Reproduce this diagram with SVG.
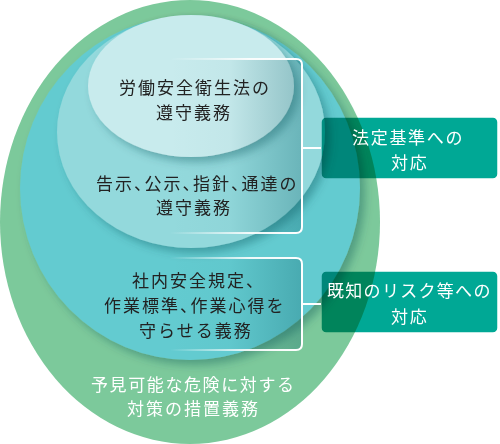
<svg xmlns="http://www.w3.org/2000/svg" width="500" height="444" viewBox="0 0 500 444">
<defs>
<filter id="sh" x="-20%" y="-20%" width="140%" height="140%">
<feDropShadow dx="5" dy="5" stdDeviation="4" flood-color="#0a4a50" flood-opacity="0.35"/>
</filter>
<linearGradient id="brk" x1="0" y1="0" x2="1" y2="0">
<stop offset="0" stop-color="#0b5f68" stop-opacity="0"/>
<stop offset="0.45" stop-color="#0b5f68" stop-opacity="0.03"/>
<stop offset="1" stop-color="#0b5f68" stop-opacity="0.3"/>
</linearGradient>
<linearGradient id="edge" x1="0" y1="0" x2="1" y2="0">
<stop offset="0" stop-color="#fff" stop-opacity="0"/>
<stop offset="0.6" stop-color="#fff" stop-opacity="0.9"/>
<stop offset="1" stop-color="#fff" stop-opacity="1"/>
</linearGradient>
</defs>
<style>
.t{font-family:"Noto Sans CJK JP","Noto Sans",sans-serif;font-size:17px;letter-spacing:2px;fill:#222}
.w{fill:#fff}
.h{font-feature-settings:"halt"}
.box{fill:#00a895;stroke:#fff;stroke-width:1.5;mix-blend-mode:multiply}
.con{stroke:#fff;stroke-width:2;fill:none}
</style>
<g id="outer">
<ellipse cx="190" cy="222" rx="190" ry="222" fill="#7cc99b"/>
<text class="t w" x="91" y="391" style="letter-spacing:1.6px">予見可能な危険に対する</text>
<text class="t w" x="127" y="414.5">対策の措置義務</text>
</g>
<g id="teal">
<ellipse cx="190" cy="188" rx="170" ry="172" fill="#63cbd0" filter="url(#sh)"/>
</g>
<g id="mid">
<ellipse cx="191" cy="132" rx="134" ry="116" fill="#93d9dc" filter="url(#sh)"/>
</g>
<g id="inner">
<ellipse cx="191" cy="86" rx="103" ry="71" fill="#c8ebed" filter="url(#sh)"/>
</g>
<g id="bracket1">
<rect x="170" y="59" width="132" height="174" rx="6" fill="url(#brk)"/>
<path d="M170 59 H296 Q302 59 302 65 V227 Q302 233 296 233 H170" fill="none" stroke="url(#edge)" stroke-width="2"/>
<text class="t" x="119" y="93.5">労働安全衛生法の</text>
<text class="t" x="156" y="118.5">遵守義務</text>
<text class="t" x="96" y="189.5">告示<tspan class="h">、</tspan>公示<tspan class="h">、</tspan>指針<tspan class="h">、</tspan>通達の</text>
<text class="t" x="156" y="213.5">遵守義務</text>
</g>
<g id="bracket2">
<rect x="170" y="258" width="132" height="92" rx="6" fill="url(#brk)"/>
<path d="M170 258 H296 Q302 258 302 264 V344 Q302 350 296 350 H170" fill="none" stroke="url(#edge)" stroke-width="2"/>
<text class="t" x="132" y="286.5">社内安全規定、</text>
<text class="t" x="104" y="311.5">作業標準<tspan class="h">、</tspan>作業心得を</text>
<text class="t" x="139" y="336.5">守らせる義務</text>
</g>
<g id="connectors">
<line class="con" x1="302" y1="148" x2="321" y2="148"/>
<line class="con" x1="302" y1="304" x2="321" y2="304"/>
</g>
<g id="box1">
<rect class="box" x="321" y="117" width="177" height="62" rx="5"/>
<text class="t w" x="352" y="143.5" style="letter-spacing:1.7px">法定基準への</text>
<text class="t w" x="391" y="168.5" style="letter-spacing:1.7px">対応</text>
</g>
<g id="box2">
<rect class="box" x="321" y="271" width="177" height="62" rx="5"/>
<text class="t w" x="327" y="296.5" style="letter-spacing:1.3px">既知のリスク等への</text>
<text class="t w" x="391" y="322.5" style="letter-spacing:1.7px">対応</text>
</g>
</svg>
